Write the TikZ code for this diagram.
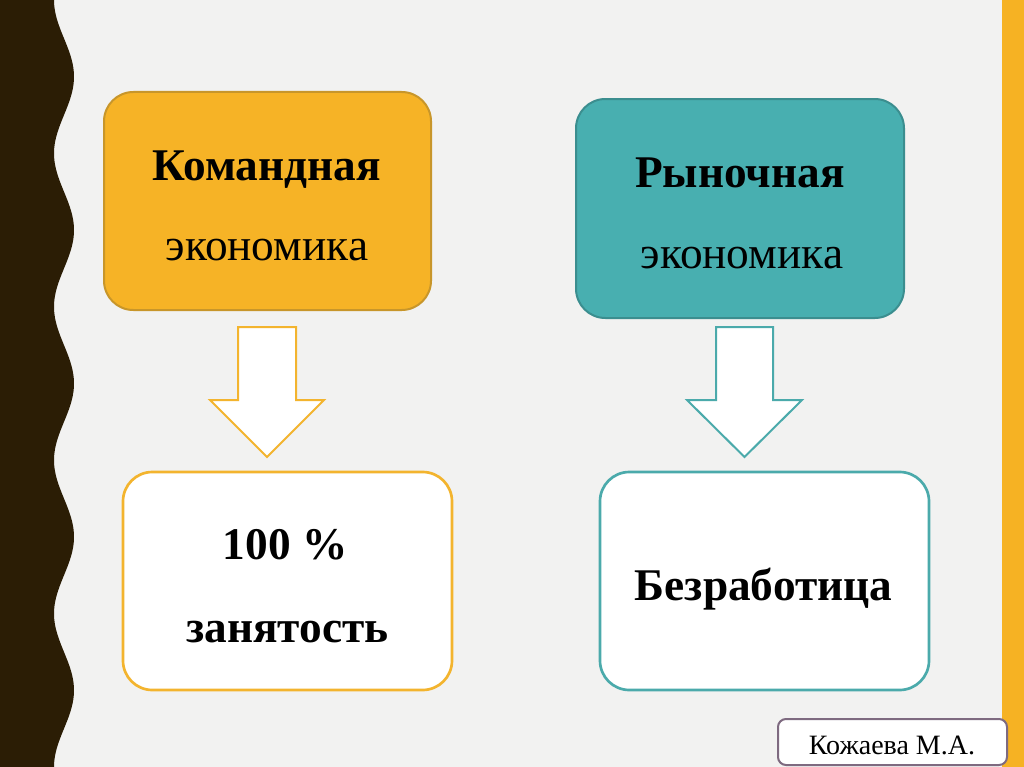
\documentclass[tikz,border=0pt]{standalone}
\usepackage{fontspec}
\setmainfont{Liberation Serif}
\definecolor{bg}{HTML}{F2F2F1}
\definecolor{darkband}{HTML}{2B1D05}
\definecolor{accentbar}{HTML}{F6B223}
\definecolor{ofill}{HTML}{F6B326}
\definecolor{oline}{HTML}{C8962A}
\definecolor{obord}{HTML}{F3B42E}
\definecolor{tfill}{HTML}{48AFB0}
\definecolor{tline}{HTML}{3B8E8F}
\definecolor{tbord}{HTML}{4BAAAB}
\definecolor{lbord}{HTML}{7E6A80}
\tikzset{
  x=0.75pt, y=-0.75pt,
  topbox/.style={draw, line width=1.5pt, rounded corners=22pt, inner sep=0pt},
  botbox/.style={draw, fill=white, line width=2pt, rounded corners=22pt, inner sep=0pt},
  bigtxt/.style={anchor=base, inner sep=0pt, font=\fontsize{34}{40}\selectfont},
  bigbold/.style={bigtxt, font=\fontsize{34}{40}\selectfont\bfseries},
  blockarrow/.style={fill=white, line width=1.5pt, line join=miter},
}
\begin{document}
\begin{tikzpicture}
\useasboundingbox (0,0) rectangle (1024,767);
\fill[bg] (0,0) rectangle (1024,767);
% left wavy band
\fill[darkband] (0,0) -- plot[domain=0:767, samples=250] ({64-10*cos(2.3468*\x)}, \x) -- (0,767) -- cycle;
% right bar
\fill[fill=accentbar] (1002,0) rectangle (1024,767);

% top boxes
\node[topbox, fill=ofill, draw=oline, minimum width=245.25pt, minimum height=163.5pt] (b1) at (267.5,201) {};
\node[topbox, fill=tfill, draw=tline, minimum width=246pt, minimum height=164.25pt] (b2) at (740,208.5) {};
% bottom boxes
\node[botbox, draw=obord, minimum width=246.75pt, minimum height=163.5pt] (b3) at (287.5,581) {};
\node[botbox, draw=tbord, minimum width=246.75pt, minimum height=163.5pt] (b4) at (764.5,581) {};

% block arrows
\draw[blockarrow, draw=obord] (238,327) -- (296,327) -- (296,400) -- (324,400) -- (267,457) -- (210,400) -- (238,400) -- cycle;
\draw[blockarrow, draw=tbord] (716,327) -- (773,327) -- (773,400) -- (802,400) -- (744.5,457) -- (687,400) -- (716,400) -- cycle;

% texts
\node[bigbold] (t1a) at (267,180) {Командная};
\node[bigtxt] (t1b) at (267,260) {экономика};
\node[bigbold] (t2a) at (740,187) {Рыночная};
\node[bigtxt] (t2b) at (742,268) {экономика};
\node[bigbold] (t3a) at (285,559) {100 \%};
\node[bigbold] (t3b) at (287.5,642) {занятость};
\node[bigbold] (t4) at (763.5,600) {Безработица};

% author label
\node[draw=lbord, fill=white, line width=1.5pt, rounded corners=6pt, minimum width=171.75pt, minimum height=34.5pt, inner sep=0pt] (lab) at (892.5,742) {};
\node[anchor=base, inner sep=0pt, font=\fontsize{21}{25}\selectfont] (labt) at (892,754) {Кожаева М.А.};
\end{tikzpicture}
\end{document}
